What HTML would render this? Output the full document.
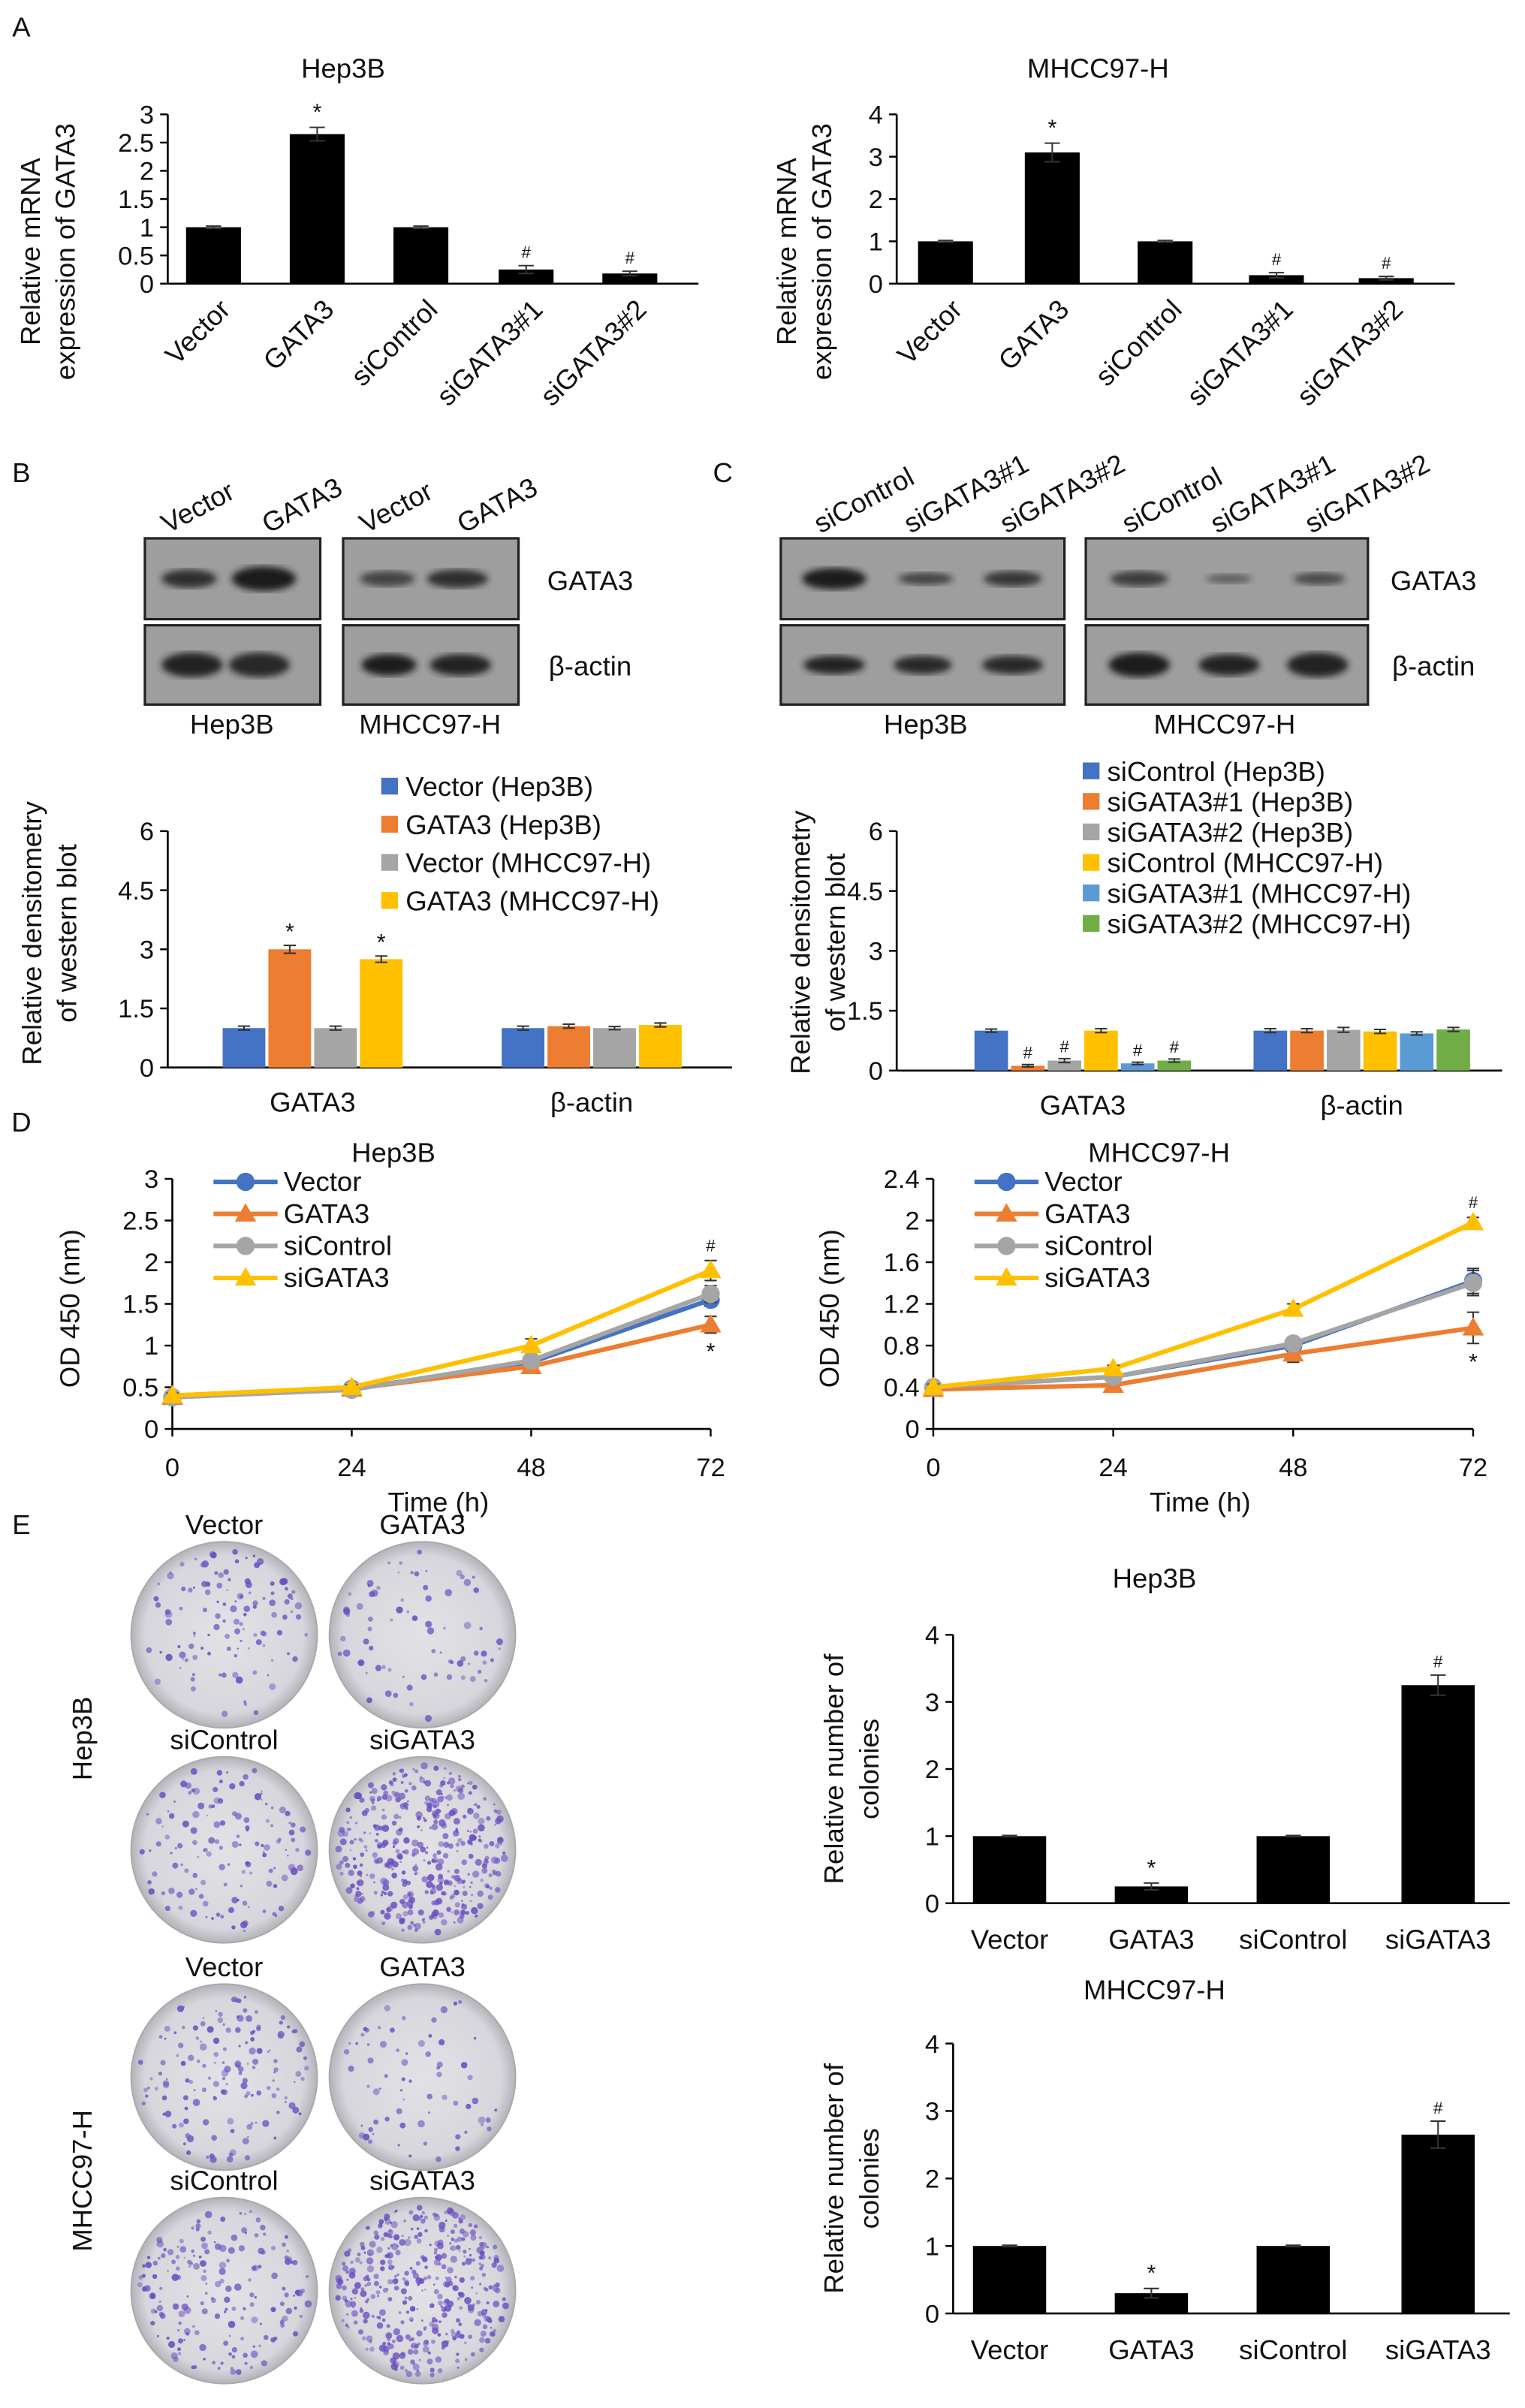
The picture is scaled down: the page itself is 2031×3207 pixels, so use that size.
<!DOCTYPE html>
<html><head><meta charset="utf-8"><style>
html,body{margin:0;padding:0;background:#fff}
svg{display:block;font-family:"Liberation Sans",sans-serif}
</style></head><body>
<svg id="fig" xmlns="http://www.w3.org/2000/svg" width="2031" height="3207" viewBox="0 0 1000 1579" preserveAspectRatio="none">
<defs>
<radialGradient id="dish" cx="50%" cy="50%" r="50%"><stop offset="0%" stop-color="#e2e2e6"/><stop offset="85%" stop-color="#d6d6dc"/><stop offset="100%" stop-color="#b3b3bb"/></radialGradient>
<filter id="blur"><feGaussianBlur stdDeviation="2.2"/></filter>
</defs>
</svg>
<script>
// ---- data ----
var aCats = ['Vector','GATA3','siControl','siGATA3#1','siGATA3#2'];
var aHep = [1, 2.65, 1, 0.25, 0.18];
var aHepErr = [0.02, 0.12, 0.02, 0.07, 0.04];
var aHepMark = ['', '*', '', '#', '#'];
var aMh = [1, 3.1, 1, 0.2, 0.13];
var aMhErr = [0.02, 0.22, 0.02, 0.06, 0.04];
var aMhMark = ['', '*', '', '#', '#'];
var aHepTicks = [0,0.5,1,1.5,2,2.5,3];
var aMhTicks = [0,1,2,3,4];

var bGroups = ['GATA3','β-actin'];
var bSeries = ['Vector (Hep3B)','GATA3 (Hep3B)','Vector (MHCC97-H)','GATA3 (MHCC97-H)'];
var bColors = ['#4472c4','#ed7d31','#a5a5a5','#ffc000'];
var bVals = [[1,1],[3.0,1.05],[1,1],[2.75,1.08]];
var bErr = [[0.05,0.05],[0.1,0.05],[0.05,0.04],[0.08,0.05]];
var bMark = [['',''],['*',''],['',''],['*','']];
var bcTicks = [0,1.5,3,4.5,6];

var cSeries = ['siControl (Hep3B)','siGATA3#1 (Hep3B)','siGATA3#2 (Hep3B)','siControl (MHCC97-H)','siGATA3#1 (MHCC97-H)','siGATA3#2 (MHCC97-H)'];
var cColors = ['#4472c4','#ed7d31','#a5a5a5','#ffc000','#5b9bd5','#70ad47'];
var cVals = [[1,1],[0.12,1],[0.25,1.02],[1,0.98],[0.18,0.93],[0.25,1.03]];
var cErr = [[0.04,0.05],[0.03,0.05],[0.05,0.06],[0.05,0.05],[0.03,0.04],[0.04,0.05]];
var cMark = [['',''],['#',''],['#',''],['',''],['#',''],['#','']];

var dTimes = [0,24,48,72];
var dSeries = ['Vector','GATA3','siControl','siGATA3'];
var dColors = ['#4472c4','#ed7d31','#a5a5a5','#ffc000'];
var dMarkers = ['circle','triangle','circle','triangle'];
var dHep = [[0.38,0.48,0.8,1.55],[0.38,0.48,0.75,1.25],[0.38,0.47,0.82,1.62],[0.4,0.5,1.0,1.9]];
var dHepErr = [[0.03,0.03,0.05,0.08],[0.03,0.03,0.05,0.1],[0.03,0.03,0.05,0.1],[0.03,0.03,0.08,0.12]];
var dMh = [[0.4,0.5,0.8,1.42],[0.38,0.42,0.72,0.97],[0.4,0.5,0.82,1.4],[0.4,0.58,1.15,1.98]];
var dMhErr = [[0.03,0.03,0.05,0.12],[0.03,0.03,0.08,0.15],[0.03,0.03,0.05,0.12],[0.03,0.03,0.05,0.05]];
var dHepTicks = [0,0.5,1,1.5,2,2.5,3];
var dMhTicks = [0,0.4,0.8,1.2,1.6,2,2.4];

var eCats = ['Vector','GATA3','siControl','siGATA3'];
var eHep = [1,0.25,1,3.25];
var eHepErr = [0.01,0.05,0.01,0.15];
var eMh = [1,0.3,1,2.65];
var eMhErr = [0.01,0.07,0.01,0.2];
var eMark = ['','*','','#'];
var eTicks = [0,1,2,3,4];

// ---- helpers ----
var svg = document.getElementById('fig');
var NS = 'http://www.w3.org/2000/svg';
function mk(tag, attrs, name, parent) {
  var el = document.createElementNS(NS, tag);
  for (var k in attrs) el.setAttribute(k, attrs[k]);
  
  
  (parent || svg).appendChild(el);
  return el;
}
function txt(x, y, s, size, name, extra) {
  var a = {x:x, y:y, 'font-size':size, fill:'#111', 'text-anchor':'middle'};
  for (var k in extra||{}) a[k] = extra[k];
  var t = mk('text', a, name);
  t.textContent = s;
  return t;
}
function lin(v0, v1, p0, p1) { return function(v){ return p0 + (v - v0) * (p1 - p0) / (v1 - v0); }; }
function errbar(x, y1, y2, w, name) {
  mk('line',{x1:x,y1:y1,x2:x,y2:y2,stroke:'#333','stroke-width':1},name);
  mk('line',{x1:x-w,y1:y1,x2:x+w,y2:y1,stroke:'#333','stroke-width':1},name+'-cap');
  mk('line',{x1:x-w,y1:y2,x2:x+w,y2:y2,stroke:'#333','stroke-width':1},name+'-cap');
}
function yaxis(x, ys, ticks, xEnd, prefix, fmt) {
  mk('line',{x1:x,y1:ys(ticks[0]),x2:x,y2:ys(ticks[ticks.length-1]),stroke:'#000','stroke-width':1.3},prefix+'-y-axis');
  mk('line',{x1:x,y1:ys(ticks[0]),x2:xEnd,y2:ys(ticks[0]),stroke:'#000','stroke-width':1.3},prefix+'-x-axis');
  ticks.forEach(function(t){
    mk('line',{x1:x-5,y1:ys(t),x2:x,y2:ys(t),stroke:'#000','stroke-width':1.2},prefix+'-y-tick');
    txt(x-9, ys(t)+6, fmt?fmt(t):String(t), 17, prefix+'-y-tick-label', {'text-anchor':'end'});
  });
}
function ytitle(x, yc, lines, name) {
  lines.forEach(function(l,i){
    txt(x + i*23, yc, l, 18, name, {transform:'rotate(-90 '+(x+i*23)+' '+yc+')'});
  });
}

// ---- panel labels ----
txt(14,24,'A',18,'panel-label-a');
txt(14,316,'B',18,'panel-label-b');
txt(474,316,'C',18,'panel-label-c');
txt(14,742,'D',18,'panel-label-d');
txt(14,1006,'E',18,'panel-label-e');

// ---- Panel A ----
function panelA(ax, centers, vals, errs, marks, ticks, title, tx, prefix) {
  var ys = lin(0, ticks[ticks.length-1], 186, 75);
  txt(tx, 51, title, 18, prefix+'-title');
  yaxis(ax, ys, ticks, centers[centers.length-1]+45, prefix);
  vals.forEach(function(v,i){
    var cx = centers[i], w = 36;
    mk('rect',{x:cx-w/2,y:ys(v),width:w,height:ys(0)-ys(v),fill:'#000'},prefix+'-bar-'+i);
    errbar(cx, ys(v+errs[i]), ys(v-errs[i]), 5, prefix+'-error-'+i);
    if (marks[i]) txt(cx, ys(v+errs[i])-5, marks[i], marks[i]=='*'?15:11, prefix+'-sig-'+i);
    var lx = cx+12, ly = 204;
    txt(lx, ly, aCats[i], 18, prefix+'-x-label', {'text-anchor':'end', transform:'rotate(-45 '+lx+' '+ly+')'});
  });
}
panelA(110, [140,208,276,345,413], aHep, aHepErr, aHepMark, aHepTicks, 'Hep3B', 225, 'a-hep3b');
ytitle(26, 165, ['Relative mRNA','expression of GATA3'], 'a-hep3b-y-title');
panelA(588, [620,690,764,837,909], aMh, aMhErr, aMhMark, aMhTicks, 'MHCC97-H', 720, 'a-mhcc');
ytitle(522, 165, ['Relative mRNA','expression of GATA3'], 'a-mhcc-y-title');

// ---- blots ----
function blot(x0, x1, y0, y1, bands, name) {
  mk('rect',{x:x0,y:y0,width:x1-x0,height:y1-y0,fill:'#9e9e9e',stroke:'#222','stroke-width':1.6},name);
  bands.forEach(function(b,i){
    mk('ellipse',{cx:b[0],cy:(y0+y1)/2,rx:b[1],ry:b[2],fill:'#1a1a1a',opacity:b[3],filter:'url(#blur)'},name+'-band-'+i);
  });
}
blot(95,210,353,406,[[124,18,6,0.85],[173,21,8,1]],'blot-b-hep3b-gata3');
blot(95,210,410,462,[[126,20,8,0.95],[170,20,8,0.9]],'blot-b-hep3b-actin');
blot(225,340,353,406,[[254,18,5,0.7],[300,20,6,0.85]],'blot-b-mhcc-gata3');
blot(225,340,410,462,[[255,18,7,1],[302,20,7,0.95]],'blot-b-mhcc-actin');
txt(387,387,'GATA3',18,'blot-b-gata3-label');
txt(387,443,'β-actin',18,'blot-b-actin-label');
txt(152,481,'Hep3B',18,'blot-b-hep3b-label');
txt(282,481,'MHCC97-H',18,'blot-b-mhcc-label');
[['Vector',110,350],['GATA3',176,350],['Vector',240,350],['GATA3',304,350]].forEach(function(l){
  txt(l[1],l[2],l[0],18,'blot-b-lane-label',{'text-anchor':'start',transform:'rotate(-28 '+l[1]+' '+l[2]+')'});
});
blot(512,698,353,406,[[547,21,7,1],[607,18,4,0.7],[664,19,5,0.8]],'blot-c-hep3b-gata3');
blot(512,698,410,462,[[547,20,6,0.95],[605,19,6,0.9],[664,20,6,0.9]],'blot-c-hep3b-actin');
blot(712,897,353,406,[[747,19,5,0.75],[806,15,3,0.5],[865,17,4,0.65]],'blot-c-mhcc-gata3');
blot(712,897,410,462,[[747,20,8,1],[806,20,7,0.95],[864,20,8,0.95]],'blot-c-mhcc-actin');
txt(940,387,'GATA3',18,'blot-c-gata3-label');
txt(940,443,'β-actin',18,'blot-c-actin-label');
txt(607,481,'Hep3B',18,'blot-c-hep3b-label');
txt(803,481,'MHCC97-H',18,'blot-c-mhcc-label');
[['siControl',538,350],['siGATA3#1',597,350],['siGATA3#2',660,350],['siControl',740,350],['siGATA3#1',798,350],['siGATA3#2',860,350]].forEach(function(l){
  txt(l[1],l[2],l[0],18,'blot-c-lane-label',{'text-anchor':'start',transform:'rotate(-28 '+l[1]+' '+l[2]+')'});
});

// ---- grouped bar charts ----
function grouped(ax, xEnd, gCenters, series, colors, vals, errs, marks, bw, legX, legY0, legStep, prefix, ytop, ybot) {
  var ys = lin(0, 6, ybot, ytop);
  yaxis(ax, ys, bcTicks, xEnd, prefix);
  var n = series.length;
  bGroups.forEach(function(g,gi){
    txt(gCenters[gi], ybot+29, g, 18, prefix+'-x-label');
    for (var s=0;s<n;s++){
      var v = vals[s][gi], cx = gCenters[gi] + (s-(n-1)/2)*bw;
      mk('rect',{x:cx-bw/2+1,y:ys(v),width:bw-2,height:ybot-ys(v),fill:colors[s]},prefix+'-bar-'+s+'-'+gi);
      errbar(cx, ys(v+errs[s][gi]), ys(v-errs[s][gi]), 4, prefix+'-error');
      if (marks[s][gi]) txt(cx, ys(v+errs[s][gi])-4, marks[s][gi], marks[s][gi]=='*'?15:11, prefix+'-sig');
    }
  });
  series.forEach(function(s,i){
    var y = legY0 + i*legStep;
    mk('rect',{x:legX,y:y-6,width:11,height:11,fill:colors[i]},prefix+'-legend-swatch');
    txt(legX+16, y+6, s, 18, prefix+'-legend-entry', {'text-anchor':'start'});
  });
}
grouped(110, 480, [205,388], bSeries, bColors, bVals, bErr, bMark, 30, 250, 516, 25, 'b-chart', 545, 700);
ytitle(27, 612, ['Relative densitometry','of western blot'], 'b-chart-y-title');
grouped(588, 985, [710,893], cSeries, cColors, cVals, cErr, cMark, 24, 710, 506, 20, 'c-chart', 545, 702);
ytitle(531, 618, ['Relative densitometry','of western blot'], 'c-chart-y-title');

// ---- line charts ----
function marker(x,y,si,name){
  if (dMarkers[si]=='circle') mk('circle',{cx:x,cy:y,r:6,fill:dColors[si]},name);
  else mk('path',{d:'M'+x+' '+(y-7)+' L'+(x+7)+' '+(y+5)+' L'+(x-7)+' '+(y+5)+' Z',fill:dColors[si]},name);
}
function lineChart(ax, axEnd, ticks, series, errs, title, tx, prefix, tickFmt, ytx) {
  var ys = lin(0, ticks[ticks.length-1], 937, 773);
  var xs = lin(0, 72, ax, axEnd);
  txt(tx, 762, title, 18, prefix+'-title');
  yaxis(ax, ys, ticks, axEnd, prefix, tickFmt);
  dTimes.forEach(function(t){
    mk('line',{x1:xs(t),y1:937,x2:xs(t),y2:942,stroke:'#000','stroke-width':1.2},prefix+'-x-tick');
    txt(xs(t), 968, String(t), 17, prefix+'-x-tick-label');
  });
  txt((ax+axEnd)/2-2, 991, 'Time (h)', 18, prefix+'-x-title');
  txt(ytx, 858, 'OD 450 (nm)', 18, prefix+'-y-title', {transform:'rotate(-90 '+ytx+' 858)'});
  series.forEach(function(sv,si){
    var d = sv.map(function(v,i){ return (i?'L':'M')+xs(dTimes[i])+' '+ys(v); }).join(' ');
    mk('path',{d:d,fill:'none',stroke:dColors[si],'stroke-width':3},prefix+'-line-'+dSeries[si]);
    sv.forEach(function(v,i){
      var x=xs(dTimes[i]), y=ys(v);
      errbar(x, ys(v+errs[si][i]), ys(v-errs[si][i]), 4, prefix+'-error');
      marker(x,y,si,prefix+'-point');
    });
  });
  var last = series[3][3], lastG = series[1][3];
  txt(axEnd, ys(last+errs[3][3])-6, '#', 11, prefix+'-sig-hash');
  txt(axEnd, ys(lastG-errs[1][3])+17, '*', 15, prefix+'-sig-star');
  dSeries.forEach(function(s,i){
    var y = 775 + i*21, lx = ax+27;
    mk('line',{x1:lx,y1:y,x2:lx+42,y2:y,stroke:dColors[i],'stroke-width':3},prefix+'-legend-line');
    marker(lx+21,y,i,prefix+'-legend-marker');
    txt(lx+46, y+6, s, 18, prefix+'-legend-entry', {'text-anchor':'start'});
  });
}
lineChart(113, 466, dHepTicks, dHep, dHepErr, 'Hep3B', 258, 'd-hep3b', null, 52);
lineChart(612, 966, dMhTicks, dMh, dMhErr, 'MHCC97-H', 760, 'd-mhcc', function(t){ return t===0?'0':(t%1===0?String(t):t.toFixed(1)); }, 550);

// ---- dishes ----
var dishPos = [[147,1072,'Vector',0.8],[277,1072,'GATA3',0.5],[147,1213,'siControl',0.9],[277,1213,'siGATA3',2.6],[147,1362,'Vector',1.0],[277,1362,'GATA3',0.45],[147,1502,'siControl',1.2],[277,1502,'siGATA3',2.6]];
var seed = 7;
function rnd(){ seed = (seed*16807)%2147483647; return seed/2147483647; }
dishPos.forEach(function(p,i){
  var g = mk('g',{},'colony-dish-'+i);
  mk('circle',{cx:p[0],cy:p[1],r:61,fill:'url(#dish)',stroke:'#aaa','stroke-width':1},'dish-plate',g);
  var n = Math.round(150*p[3]);
  for (var k=0;k<n;k++){
    var a = rnd()*Math.PI*2, r = Math.sqrt(rnd())*56;
    mk('circle',{cx:p[0]+r*Math.cos(a),cy:p[1]+r*Math.sin(a),r:0.6+rnd()*1.8,fill:'#6a4fc0',opacity:0.45+rnd()*0.45},'colony',g);
  }
  txt(p[0], p[1]-66, p[2], 18, 'dish-label-'+i);
});
txt(60,1140,'Hep3B',18,'dish-row-hep3b',{transform:'rotate(-90 60 1140)'});
txt(60,1430,'MHCC97-H',18,'dish-row-mhcc',{transform:'rotate(-90 60 1430)'});

// ---- E bar charts ----
function panelE(vals, errs, ytop, ybot, title, ty, prefix) {
  var ys = lin(0, 4, ybot, ytop);
  var centers = [662,755,848,943];
  txt(757, ty, title, 18, prefix+'-title');
  yaxis(625, ys, eTicks, 990, prefix);
  vals.forEach(function(v,i){
    var cx = centers[i], w = 48;
    mk('rect',{x:cx-w/2,y:ys(v),width:w,height:ybot-ys(v),fill:'#000'},prefix+'-bar-'+i);
    errbar(cx, ys(v+errs[i]), ys(v-errs[i]), 5, prefix+'-error-'+i);
    if (eMark[i]) txt(cx, ys(v+errs[i])-5, eMark[i], eMark[i]=='*'?15:11, prefix+'-sig-'+i);
    txt(cx, ybot+30, eCats[i], 18, prefix+'-x-label');
  });
  ytitle(553, (ytop+ybot)/2, ['Relative number of','colonies'], prefix+'-y-title');
}
panelE(eHep, eHepErr, 1072, 1248, 'Hep3B', 1041, 'e-hep3b');
panelE(eMh, eMhErr, 1340, 1517, 'MHCC97-H', 1311, 'e-mhcc');
</script>
</body></html>
